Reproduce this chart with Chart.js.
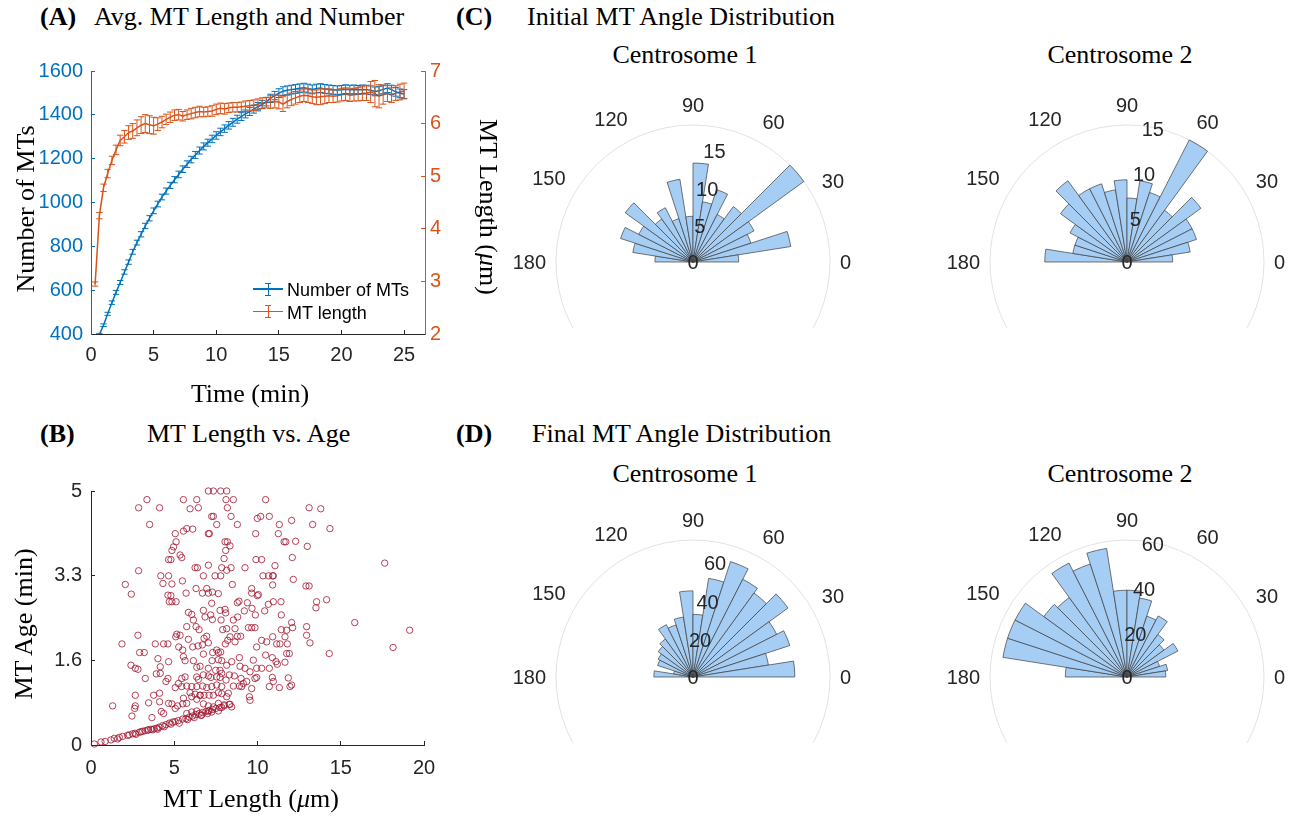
<!DOCTYPE html>
<html><head><meta charset="utf-8">
<script src="https://cdn.jsdelivr.net/npm/chart.js@4.4.0/dist/chart.umd.min.js"></script>
<style>
html,body{margin:0;padding:0;background:#fff;width:1292px;height:819px;overflow:hidden;}
#fig{position:relative;width:1292px;height:819px;overflow:hidden;}
.t{position:absolute;font-family:'Liberation Serif','DejaVu Serif',serif;font-size:26px;line-height:26px;white-space:nowrap;color:#000;}
.b{font-weight:bold;}
.c{transform:translateX(-50%);}
.rl{transform:translate(-50%,-50%) rotate(-90deg);}
.rr{transform:translate(-50%,-50%) rotate(90deg);}
.cv{position:absolute;left:0;top:0;}
.clip{position:absolute;overflow:hidden;}
.lg{position:absolute;font-family:'Liberation Sans',Arial,sans-serif;font-size:18px;line-height:18px;color:#000;white-space:nowrap;}
.ic{position:absolute;}
</style></head>
<body><div id="fig">
<div class="t b" style="left:40px;top:4px;">(A)</div>
<div class="t" style="left:94px;top:4px;">Avg. MT Length and Number</div>
<div class="t b" style="left:456px;top:4px;">(C)</div>
<div class="t" style="left:527px;top:4px;">Initial MT Angle Distribution</div>
<div class="t c" style="left:685px;top:42px;">Centrosome 1</div>
<div class="t c" style="left:1120px;top:42px;">Centrosome 2</div>
<div class="t b" style="left:40px;top:421px;">(B)</div>
<div class="t" style="left:147px;top:421px;">MT Length vs. Age</div>
<div class="t b" style="left:456px;top:421px;">(D)</div>
<div class="t" style="left:532px;top:421px;">Final MT Angle Distribution</div>
<div class="t c" style="left:685px;top:461px;">Centrosome 1</div>
<div class="t c" style="left:1120px;top:461px;">Centrosome 2</div>

<canvas id="cA" class="cv" width="520" height="340" style="left:0;top:40px;"></canvas>
<canvas id="cB" class="cv" width="520" height="330" style="left:0;top:460px;"></canvas>

<div class="clip" style="left:511px;top:80px;width:364px;height:248px;"><canvas id="cC1" class="cv" width="364" height="364"></canvas></div>
<div class="clip" style="left:945px;top:80px;width:364px;height:248px;"><canvas id="cC2" class="cv" width="364" height="364"></canvas></div>
<div class="clip" style="left:511px;top:495px;width:364px;height:248px;"><canvas id="cD1" class="cv" width="364" height="364"></canvas></div>
<div class="clip" style="left:945px;top:495px;width:364px;height:248px;"><canvas id="cD2" class="cv" width="364" height="364"></canvas></div>

<div class="t rl" style="left:26px;top:209px;">Number of MTs</div>
<div class="t rr" style="left:488px;top:207px;">MT Length (<i>μ</i>m)</div>
<div class="t c" style="left:250px;top:381px;">Time (min)</div>
<div class="t rl" style="left:24px;top:624px;">MT Age (min)</div>
<div class="t c" style="left:251px;top:786px;">MT Length (<i>μ</i>m)</div>

<div id="legend"></div>
</div>
<script>
// ---------------- DATA ----------------
const tMin = [0.33,0.67,1.00,1.33,1.67,2.00,2.33,2.67,3.00,3.33,3.67,4.00,4.33,4.67,5.00,5.33,5.67,6.00,6.33,6.67,7.00,7.33,7.67,8.00,8.33,8.67,9.00,9.33,9.67,10.00,10.33,10.67,11.00,11.33,11.67,12.00,12.33,12.67,13.00,13.33,13.67,14.00,14.33,14.67,15.00,15.33,15.67,16.00,16.33,16.67,17.00,17.33,17.67,18.00,18.33,18.67,19.00,19.33,19.67,20.00,20.33,20.67,21.00,21.33,21.67,22.00,22.33,22.67,23.00,23.33,23.67,24.00,24.33,24.67,25.00];
const mtNumber = [340,398,440,492,543,590,635,683,728,775, 817,855,893,928,962,993,1025,1052,1078,1104, 1128,1152,1175,1196,1217,1237,1256,1273,1290,1306, 1322,1337,1352,1366,1380,1392,1404,1415,1426,1437, 1447,1460,1475,1488,1499,1508,1512,1515,1518,1521, 1524,1520,1516,1520,1522,1518,1516,1514,1512,1514, 1517,1515,1516,1514,1516,1515,1512,1507,1510,1516, 1522,1515,1505,1498,1495];
const mtNumberErr = [4,5,6,7,8,9,9,10,10,11, 11,12,12,12,13,13,13,14,14,14, 15,15,15,15,16,16,16,16,17,17, 17,17,17,18,18,18,18,18,18,19, 19,19,19,19,20,20,20,20,20,20, 20,20,20,20,20,20,20,20,20,20, 20,20,20,20,20,20,20,20,20,20, 20,20,20,20,20];
const mtLength = [2.95,4.25,4.78,5.05,5.30,5.50,5.68,5.75,5.83,5.86, 5.92,5.97,6.00,5.98,5.96,5.99,6.03,6.08,6.12,6.16, 6.17,6.14,6.17,6.19,6.21,6.23,6.22,6.23,6.24,6.27, 6.29,6.28,6.30,6.31,6.31,6.32,6.33,6.34,6.35,6.37, 6.39,6.40,6.41,6.42,6.41,6.37,6.42,6.46,6.49,6.52, 6.54,6.53,6.51,6.50,6.51,6.52,6.53,6.52,6.53,6.55, 6.56,6.54,6.55,6.56,6.57,6.58,6.60,6.57,6.52,6.55, 6.57,6.54,6.58,6.60,6.62];
const mtLengthErr = [0.04,0.06,0.07,0.08,0.08,0.09,0.10,0.12,0.13,0.14, 0.15,0.16,0.17,0.17,0.16,0.12,0.11,0.10,0.10,0.10, 0.10,0.09,0.09,0.10,0.10,0.10,0.09,0.09,0.10,0.10, 0.10,0.10,0.09,0.09,0.09,0.09,0.10,0.10,0.10,0.10, 0.10,0.10,0.12,0.12,0.13,0.14,0.12,0.12,0.12,0.12, 0.12,0.13,0.13,0.14,0.15,0.14,0.13,0.12,0.12,0.12, 0.12,0.12,0.12,0.13,0.13,0.14,0.20,0.25,0.22,0.18, 0.15,0.14,0.14,0.15,0.15];
const timeTicks = [0,5,10,15,20,25];
const numberTicks = [400,600,800,1000,1200,1400,1600];
const lengthTicks = [2,3,4,5,6,7];

// Panel B: [MT length (um), MT age (min)]
const lengthAgePoints = [
[7.05,5],[7.35,5],[7.79,5],[8.15,5],
[3.36,4.83],[5.55,4.83],[6.35,4.83],[8.11,4.83],[8.55,4.83],[10.49,4.83],
[2.86,4.67],[4.12,4.67],[5.95,4.65],[6.45,4.67],[8.19,4.67],[13.1,4.67],[13.8,4.65],
[7.35,4.5],[7.25,4.5],[8.41,4.5],[10.19,4.5],[10.71,4.5],[9.99,4.46],
[3.52,4.34],[7.55,4.34],[8.79,4.34],[11.31,4.34],[12.05,4.42],[13.31,4.34],[14.35,4.26],
[5.55,4.21],[5.75,4.26],[6.11,4.25],[5.06,4.16],[7.05,4.16],[7.11,4.16],[9.89,4.16],[11.25,4.16],
[11.6,4.0],[11.7,4.0],[12.29,4.01],[8.05,4.0],[8.19,4.0],[8.35,3.92],[12.99,3.91],[5.11,4.0],[4.96,3.9],[4.86,3.83],
[4.66,3.65],[4.8,3.65],[5.35,3.74],[5.45,3.69],[8.09,3.83],[7.99,3.67],[9.91,3.65],[10.25,3.65],[12.09,3.69],
[11.05,3.53],[9.25,3.49],[7.05,3.54],[6.25,3.49],[6.39,3.49],[7.85,3.49],[8.41,3.49],[17.64,3.58],
[2.86,3.43],[4.19,3.33],[4.66,3.33],[5.49,3.23],[4.32,3.18],[4.86,3.17],[6.75,3.33],[7.45,3.33],[7.79,3.33],[8.15,3.44],
[10.33,3.33],[10.67,3.33],[10.91,3.33],[10.95,3.33],[12.15,3.26],[2.06,3.16],[2.42,2.97],
[4.62,2.95],[4.8,2.94],[4.7,2.82],[4.86,2.82],[5.11,2.82],[5.71,2.99],[6.31,3.08],[6.69,2.99],[6.95,3.08],
[7.05,2.99],[7.65,2.98],[7.29,3.01],[8.49,3.16],[9.65,3.08],[9.65,2.99],[9.99,2.94],[10.05,2.96],[10.91,3.15],
[10.95,2.82],[10.65,2.77],[12.91,3.13],[13.1,3.13],[14.15,2.86],[13.55,2.82],[13.51,2.7],
[7.25,2.79],[8.79,2.8],[8.89,2.83],[9.39,2.8],[11.41,2.82],
[5.85,2.61],[6.05,2.57],[6.15,2.46],[6.75,2.65],[6.85,2.52],[7.19,2.56],[7.29,2.47],[7.75,2.65],[7.81,2.46],[8.05,2.67],[8.09,2.6],[8.55,2.46],[8.81,2.52],[9.21,2.64],[9.67,2.69],[9.87,2.56],[10.43,2.64],[11.43,2.56],
[15.84,2.41],[19.14,2.26],[12.95,2.33],[12.05,2.41],[12.11,2.31],[11.75,2.26],[11.43,2.27],
[9.65,2.31],[9.85,2.31],[9.45,2.31],[8.65,2.29],[8.79,2.14],[7.91,2.27],[8.15,2.29],[6.31,2.33],[6.49,2.27],[5.75,2.33],
[6.79,2.1],[6.95,2.14],[5.15,2.18],[5.35,2.16],[5.85,2.08],[12.95,2.16],[13.15,2.01],
[1.86,1.99],[2.82,2.16],[2.92,1.82],[3.2,1.82],[3.86,1.99],[4.36,1.99],[4.62,1.99],[5.09,2.13],[5.27,1.93],[5.51,1.87],
[6.11,1.93],[6.43,1.95],[6.69,1.97],[7.05,2.01],[7.55,1.87],[7.79,1.83],[8.35,2.13],[8.21,2.06],[8.07,1.99],[8.65,2.03],[8.99,2.14],
[9.95,1.93],[10.25,2.06],[10.55,2.03],[10.91,2.13],[11.15,1.99],[11.35,1.99],[11.65,2.13],[11.79,1.99],[11.91,1.8],[14.31,1.8],[18.14,1.92],
[4.02,1.7],[4.66,1.64],[5.55,1.74],[5.65,1.66],[6.15,1.66],[6.35,1.53],[6.55,1.55],[6.75,1.79],[7.31,1.82],[7.65,1.82],
[7.27,1.66],[7.65,1.68],[7.85,1.66],[7.05,1.51],[7.49,1.47],[7.75,1.47],[8.15,1.57],[8.45,1.64],[8.91,1.72],
[8.95,1.55],[9.25,1.51],[9.55,1.44],[9.75,1.67],[9.95,1.51],[10.25,1.51],[10.71,1.51],[10.49,1.77],[10.89,1.72],
[11.11,1.64],[11.19,1.59],[11.65,1.63],[11.75,1.8],[2.4,1.57],[2.66,1.51],[2.82,1.49],[4.16,1.54],[4.16,1.41],[3.92,1.4],[3.26,1.31],
[5.45,1.31],[5.65,1.34],[6.35,1.34],[6.45,1.29],[6.75,1.38],[7.05,1.36],[7.2,1.33],[7.55,1.34],[7.75,1.33],[7.85,1.41],
[8.11,1.28],[8.31,1.38],[8.61,1.36],[9.01,1.31],[9.05,1.15],[9.35,1.25],[9.85,1.31],[9.95,1.33],[10.89,1.33],[10.95,1.25],
[11.85,1.32],[12.05,1.18],[11.95,1.15],[10.71,1.15],[11.31,1.13],[9.65,1.11],[4.5,1.25],[4.62,1.31],[5.25,1.21],[5.45,1.15],[5.06,1.13],
[5.75,1.16],[6.05,1.15],[6.35,1.15],[6.71,1.16],[6.95,1.13],[7.25,1.15],[7.55,1.18],[7.85,1.15],[8.55,1.16],[8.91,1.16],[9.15,1.21],
[5.95,1.03],[6.25,1.0],[6.55,0.98],[6.79,0.98],[7.09,0.98],[7.35,0.98],[7.65,1.03],[7.85,1.01],[8.15,0.95],
[2.66,0.98],[3.76,0.98],[4.12,1.02],[1.3,0.77],[2.66,0.77],[2.62,0.72],[2.46,0.57],[3.46,0.83],[4.12,0.85],[4.22,0.66],[4.36,0.62],[3.66,0.54],
[4.66,0.82],[4.86,0.81],[5.06,0.72],[5.2,0.77],[5.55,0.92],[5.51,0.81],[5.75,0.82],[6.05,0.95],[6.35,0.9],[6.55,0.98],
[6.75,0.81],[7.05,0.77],[7.35,0.75],[7.65,0.82],[7.99,0.79],[8.35,0.8],[8.45,0.75],[8.25,1.02],[9.51,0.95],[9.55,0.88],
[5.75,0.62],[6.05,0.65],[6.35,0.67],[6.65,0.59],[7.05,0.67],[7.25,0.65],[7.65,0.67],[7.85,0.74],
[0.2,0.02],[0.6,0.06],[0.85,0.07],[1.2,0.1],[1.4,0.13],[1.6,0.12],[1.7,0.15],[1.9,0.17],[2.2,0.19],[2.3,0.2],[2.5,0.22],[2.65,0.23],[2.7,0.21],[2.9,0.25],[3.0,0.26],[3.1,0.27],[3.25,0.28],[3.4,0.29],[3.45,0.3],[3.6,0.31],[3.7,0.3],[3.8,0.32],[3.95,0.33],[4.0,0.31],[4.1,0.35],[4.3,0.38],[4.4,0.36],[4.5,0.4],[4.7,0.43],[4.8,0.41],[4.9,0.45],[5.05,0.46],[5.25,0.48],[5.3,0.43],[5.5,0.51],[5.7,0.52],[5.8,0.5],[5.9,0.55],[6.1,0.57],[6.2,0.54],[6.3,0.6],[6.5,0.62],[6.6,0.58],[6.7,0.64],[6.9,0.66],[7.0,0.62],[7.1,0.68],[7.3,0.7],[7.5,0.72],[7.75,0.74],[8.0,0.77],[8.3,0.8]
];
const lengthTicksB = [0,5,10,15,20];
const ageTicks = [0,1.6667,3.3333,5];
const ageTickLabels = ['0','1.6','3.3','5'];

// Panels C/D: counts per 9-degree bin, from 0-9 deg up to 171-180 deg
const binEdgesDeg = [0,9,18,27,36,45,54,63,72,81,90,99,108,117,126,135,144,153,162,171,180];
const initialCentrosome1 = [6,13,8,9,18,9,7,10,8,13,6,11,6,8,7,11,8,10,8,5];
const initialCentrosome2 = [5,7,8,8,10,7,15,8,9,7,9,8,9,9,11,9,7,6,6,9];
const finalCentrosome1 = [52,39,52,48,60,53,56,62,51,32,44,31,28,30,24,22,20,19,10,20];
const finalCentrosome2 = [17,18,15,25,20,23,30,28,35,38,38,57,52,56,43,45,55,55,55,27];
const thetaTicks = [0,30,60,90,120,150,180];
const initialRTicks = [0,5,10,15];
const finalRTicks = [0,20,40,60];

// ---------------- STYLE ----------------
const BLUE = '#0072BD', ORANGE = '#D95319', DARKRED = '#A2142F', AXIS = '#262626';
const BAR = '#a6cef5', EDGE = '#3c3c3c';
const SANS = "'Liberation Sans', Arial, sans-serif";
const tickFont = {family: SANS, size: 20};

const errorBarPlugin = {
  id: 'errorBars',
  afterDatasetsDraw(chart) {
    const ctx = chart.ctx, a = chart.chartArea;
    ctx.save();
    ctx.beginPath(); ctx.rect(a.left, a.top, a.right - a.left, a.bottom - a.top); ctx.clip();
    chart.data.datasets.forEach((ds, i) => {
      if (!ds.errors) return;
      const meta = chart.getDatasetMeta(i);
      const xs = chart.scales[meta.xAxisID], ys = chart.scales[meta.yAxisID];
      ctx.strokeStyle = ds.borderColor; ctx.lineWidth = 1;
      const cap = 3.2;
      ds.data.forEach((p, j) => {
        const e = ds.errors[j];
        const x = xs.getPixelForValue(p.x);
        const y0 = ys.getPixelForValue(p.y - e), y1 = ys.getPixelForValue(p.y + e);
        ctx.beginPath();
        ctx.moveTo(x, y0); ctx.lineTo(x, y1);
        ctx.moveTo(x - cap, y0); ctx.lineTo(x + cap, y0);
        ctx.moveTo(x - cap, y1); ctx.lineTo(x + cap, y1);
        ctx.stroke();
      });
    });
    ctx.restore();
  }
};

function axisOpts(color, extra) {
  return Object.assign({
    grid: {drawOnChartArea: false, drawTicks: true, tickLength: -4, color: color, lineWidth: 1},
    border: {display: true, color: color, width: 1},
  }, extra);
}

// ---------------- PANEL A ----------------
new Chart(document.getElementById('cA'), {
  type: 'line',
  data: {datasets: [
    {label: 'Number of MTs', data: tMin.map((t, i) => ({x: t, y: mtNumber[i]})), errors: mtNumberErr,
     yAxisID: 'y', borderColor: BLUE, borderWidth: 1.5, pointRadius: 0, tension: 0, fill: false},
    {label: 'MT length', data: tMin.map((t, i) => ({x: t, y: mtLength[i]})), errors: mtLengthErr,
     yAxisID: 'y1', borderColor: ORANGE, borderWidth: 1.5, pointRadius: 0, tension: 0, fill: false}
  ]},
  options: {
    responsive: false, animation: false, devicePixelRatio: 1,
    layout: {padding: {top: 31, left: 0, right: 0, bottom: 0}},
    plugins: {legend: {display: false}, tooltip: {enabled: false}},
    scales: {
      x: axisOpts(AXIS, {type: 'linear', position: 'bottom', min: 0, max: 26.67,
        afterBuildTicks(s) { s.ticks = timeTicks.map(v => ({value: v})); },
        ticks: {color: AXIS, font: tickFont, padding: 13, maxRotation: 0, autoSkip: false, callback: v => String(v)},
        afterFit(s) { s.height = 46; }}),
      y: axisOpts(BLUE, {position: 'left', min: 400, max: 1600,
        afterBuildTicks(s) { s.ticks = numberTicks.map(v => ({value: v})); },
        ticks: {color: BLUE, font: tickFont, padding: 12, callback: v => String(v)},
        afterFit(s) { s.width = 91; }}),
      y1: axisOpts(ORANGE, {position: 'right', min: 2, max: 7,
        afterBuildTicks(s) { s.ticks = lengthTicks.map(v => ({value: v})); },
        ticks: {color: ORANGE, font: tickFont, padding: 9, callback: v => String(v)},
        afterFit(s) { s.width = 95; }})
    }
  },
  plugins: [errorBarPlugin]
});

// legend for panel A
(function () {
  const lg = document.getElementById('legend');
  const rows = [{label: 'Number of MTs', color: BLUE, y: 289}, {label: 'MT length', color: ORANGE, y: 311.5}];
  rows.forEach(r => {
    const add = (l, t, w, h) => {
      const d = document.createElement('div'); d.className = 'ic';
      d.style.cssText = `left:${l}px;top:${t}px;width:${w}px;height:${h}px;background:${r.color};`;
      lg.appendChild(d);
    };
    add(253, r.y - 0.75, 30, 1.5);
    add(267.5, r.y - 6, 1.2, 12);
    add(265, r.y - 6.5, 6.2, 1.2);
    add(265, r.y + 5.5, 6.2, 1.2);
    const tx = document.createElement('div'); tx.className = 'lg';
    tx.style.left = '287px'; tx.style.top = (r.y - 7.8) + 'px';
    tx.textContent = r.label; lg.appendChild(tx);
  });
})();

// ---------------- PANEL B ----------------
new Chart(document.getElementById('cB'), {
  type: 'scatter',
  data: {datasets: [{
    data: lengthAgePoints.map(p => ({x: p[0], y: p[1]})),
    pointStyle: 'circle', pointRadius: 3.2, pointBorderWidth: 0.8,
    pointBorderColor: DARKRED, pointBackgroundColor: 'rgba(0,0,0,0)',
    borderColor: DARKRED, backgroundColor: 'rgba(0,0,0,0)', clip: false
  }]},
  options: {
    responsive: false, animation: false, devicePixelRatio: 1,
    layout: {padding: {top: 31, left: 0, right: 96, bottom: 0}},
    plugins: {legend: {display: false}, tooltip: {enabled: false}},
    scales: {
      x: axisOpts(AXIS, {type: 'linear', position: 'bottom', min: 0, max: 20,
        afterBuildTicks(s) { s.ticks = lengthTicksB.map(v => ({value: v})); },
        ticks: {color: AXIS, font: tickFont, padding: 15, maxRotation: 0, autoSkip: false, callback: v => String(v)},
        afterFit(s) { s.height = 45; }}),
      y: axisOpts(AXIS, {type: 'linear', position: 'left', min: 0, max: 5,
        afterBuildTicks(s) { s.ticks = ageTicks.map(v => ({value: v})); },
        ticks: {color: AXIS, font: tickFont, padding: 13, autoSkip: false, callback: (v, i) => ageTickLabels[i]},
        afterFit(s) { s.width = 91; }})
    }
  }
});

// ---------------- PANELS C / D ----------------
const polarLabelsPlugin = {
  id: 'polarLabels',
  afterDraw(chart, args, opts) {
    const s = chart.scales.r, ctx = chart.ctx;
    ctx.save();
    ctx.font = "20px 'Liberation Sans', Arial, sans-serif";
    ctx.fillStyle = AXIS; ctx.textAlign = 'center'; ctx.textBaseline = 'middle';
    thetaTicks.forEach(deg => {
      const a = deg * Math.PI / 180, txt = String(deg);
      const w = ctx.measureText(txt).width, h = 14;
      const d = s.drawingArea + 10 + 3 * Math.abs(Math.sin(a)) + Math.abs(Math.cos(a)) * w / 2 + Math.abs(Math.sin(a)) * h / 2;
      ctx.fillText(txt, s.xCenter + d * Math.cos(a), s.yCenter - d * Math.sin(a) + 1);
    });
    const ra = 79 * Math.PI / 180;
    (opts.rTicks || []).forEach(v => {
      const d = Math.max(s.getDistanceFromCenterForValue(v) - 2, 0);
      ctx.fillText(String(v), s.xCenter + d * Math.cos(ra), s.yCenter - d * Math.sin(ra) + 1);
    });
    ctx.restore();
  }
};

function makePolar(id, counts, rMax, rTicks) {
  // arcs run clockwise starting at 180 deg (west): highest-angle bin first, then the empty lower half
  const upper = counts.slice().reverse();
  const lower = counts.map(() => 0);
  const data = upper.concat(lower);
  const labels = data.map((_, i) => i < counts.length
    ? binEdgesDeg[counts.length - 1 - i] + '-' + binEdgesDeg[counts.length - i] : '');
  new Chart(document.getElementById(id), {
    type: 'polarArea',
    data: {labels, datasets: [{data, backgroundColor: BAR, borderColor: EDGE,
      borderWidth: c => (c.raw > 0 ? 0.7 : 0)}]},
    options: {
      responsive: false, animation: false, devicePixelRatio: 1,
      layout: {padding: 45},
      plugins: {legend: {display: false}, tooltip: {enabled: false}, polarLabels: {rTicks}},
      scales: {r: {
        min: 0, max: rMax, startAngle: -90,
        ticks: {display: false, stepSize: rTicks[1] - rTicks[0]},
        pointLabels: {display: false},
        angleLines: {display: false},
        grid: {circular: true, lineWidth: 1,
          color: c => (c.tick && Math.abs(c.tick.value - rMax) < 1e-6) ? '#e2e2e2' : 'rgba(0,0,0,0)'}
      }}
    },
    plugins: [polarLabelsPlugin]
  });
}
makePolar('cC1', initialCentrosome1, 18, initialRTicks);
makePolar('cC2', initialCentrosome2, 15, initialRTicks);
makePolar('cD1', finalCentrosome1, 70, finalRTicks);
makePolar('cD2', finalCentrosome2, 60, finalRTicks);
</script>
</body></html>
